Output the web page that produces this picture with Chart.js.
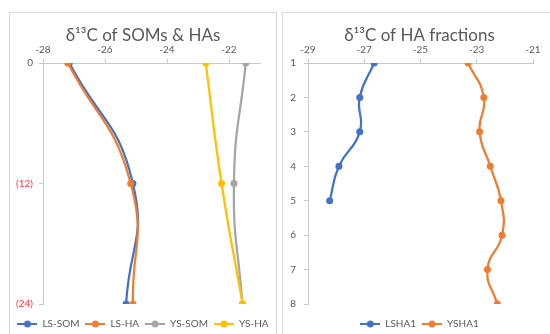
<!DOCTYPE html>
<html>
<head>
<meta charset="utf-8">
<script src="https://cdn.jsdelivr.net/npm/chart.js@4.4.1/dist/chart.umd.min.js"></script>
<style>
    body { margin: 0; width: 550px; height: 334px; overflow: hidden; position: relative; background: #fff; }
    .panel { position: absolute; top: 12px; height: 340px; border: 1px solid #d9d9d9; box-sizing: border-box; background: #fff; }
    #panelA { left: 9px; width: 268px; }
    #panelB { left: 282px; width: 275px; }
    .panel div { position: relative; width: 100%; height: 326px; }
</style>
</head>
<body>
<div class="panel" id="panelA"><div><canvas id="somChart"></canvas></div></div>
<div class="panel" id="panelB"><div><canvas id="fracChart"></canvas></div></div>
<script>
// chart 1: δ13C of SOMs & HAs (depth on y)
const depths = [0, 12, 24];
const depthLabels = ["0", "(12)", "(24)"];
const depthLabelColors = ["#595959", "#ff3b3b", "#ff3b3b"];
const somTicks = [-28, -26, -24, -22];
const lsSom = [-27.15, -25.1, -25.32];
const lsHa = [-27.2, -25.17, -25.1];
const ysSom = [-21.46, -21.84, -21.57];
const ysHa = [-22.75, -22.24, -21.56];

// chart 2: δ13C of HA fractions
const fractions = [1, 2, 3, 4, 5, 6, 7, 8];
const fracTicks = [-29, -27, -25, -23, -21];
const lsha1 = [-26.65, -27.16, -27.16, -27.9, -28.23];
const ysha1 = [-23.31, -22.75, -22.9, -22.52, -22.14, -22.1, -22.62, -22.27];

const BLUE = "#4472c4", ORANGE = "#ed7d31", GRAY = "#a5a5a5", YELLOW = "#ffc000";
const textColor = "#595959";
const axisColor = "#c9c9c9";
const fontFamily = "Lato, 'Open Sans', sans-serif";

// legend marker: short line with a dot, like Excel
function legendMarker(color) {
    let c = document.createElement("canvas");
    c.width = 20;
    c.height = 8;
    let g = c.getContext("2d");
    g.strokeStyle = color;
    g.lineWidth = 2;
    g.beginPath();
    g.moveTo(0, 4);
    g.lineTo(20, 4);
    g.stroke();
    g.fillStyle = color;
    g.beginPath();
    g.arc(10, 4, 3.5, 0, Math.PI * 2);
    g.fill();
    return c;
}

function series(label, xs, ys, color, n, i) {
    return {
        label: label,
        data: xs.map((x, k) => ({ x: x, y: ys[k] })),
        showLine: true,
        borderColor: color,
        backgroundColor: color,
        pointBackgroundColor: color,
        pointBorderWidth: 0,
        pointRadius: 3.5,
        pointStyle: "circle",
        borderWidth: 2.25,
        tension: 0.5,
        order: n - i // later series on top, as in Excel
    };
}

// invisible axis, only used to reserve space next to the plot
function spacer(position, size) {
    return {
        type: "linear",
        position: position,
        display: true,
        ticks: { display: false },
        grid: { display: false },
        border: { display: false },
        afterFit: s => {
            if (position === "bottom") s.height = size; else s.width = size;
        }
    };
}

function makeChart(id, title, datasets, xOpts, yOpts) {
    let ctx = document.getElementById(id).getContext("2d");
    return new Chart(ctx, {
        type: "scatter",
        data: { datasets: datasets },
        options: {
            responsive: true,
            maintainAspectRatio: false,
            animation: false,
            layout: { padding: 0 },
            scales: {
                x: {
                    type: "linear",
                    position: "top",
                    min: xOpts.min,
                    max: xOpts.max,
                    afterBuildTicks: s => { s.ticks = xOpts.ticks.map(v => ({ value: v })); },
                    afterFit: s => { s.height = 17.6; },
                    ticks: { color: textColor, font: { family: fontFamily, size: 10 }, padding: 3 },
                    grid: { drawOnChartArea: false, drawTicks: true, tickLength: 4, color: axisColor },
                    border: { color: axisColor }
                },
                y: {
                    type: "linear",
                    reverse: true,
                    min: yOpts.min,
                    max: yOpts.max,
                    afterBuildTicks: s => { s.ticks = yOpts.ticks.map(v => ({ value: v })); },
                    afterFit: s => { s.width = yOpts.width; },
                    ticks: {
                        color: c => yOpts.colors ? yOpts.colors[c.index] : textColor,
                        font: { family: fontFamily, size: 10 },
                        padding: yOpts.pad,
                        callback: (v, i) => yOpts.labels ? yOpts.labels[i] : v
                    },
                    grid: { drawOnChartArea: false, drawTicks: true, tickLength: 4, color: axisColor },
                    border: { color: axisColor }
                },
                padRight: spacer("right", xOpts.padRight),
                padBottom: spacer("bottom", 9)
            },
            plugins: {
                title: {
                    display: true,
                    text: title,
                    color: textColor,
                    font: { family: fontFamily, size: 17, weight: "normal", lineHeight: 1.2 },
                    padding: { top: 12, bottom: 0 }
                },
                legend: {
                    display: true,
                    position: "bottom",
                    labels: {
                        color: textColor,
                        font: { family: fontFamily, size: 10 },
                        usePointStyle: true,
                        pointStyleWidth: 20,
                        padding: 6,
                        generateLabels: chart => Chart.defaults.plugins.legend.labels.generateLabels(chart).map(item => {
                            item.pointStyle = legendMarker(chart.data.datasets[item.datasetIndex].borderColor);
                            return item;
                        }),
                        sort: (a, b) => a.datasetIndex - b.datasetIndex
                    }
                },
                tooltip: { enabled: false }
            }
        }
    });
}

makeChart("somChart", "δ¹³C of SOMs & HAs", [
    series("LS-SOM", lsSom, depths, BLUE, 4, 0),
    series("LS-HA", lsHa, depths, ORANGE, 4, 1),
    series("YS-SOM", ysSom, depths, GRAY, 4, 2),
    series("YS-HA", ysHa, depths, YELLOW, 4, 3)
], { min: -28, max: -21, ticks: somTicks, padRight: 16 },
   { min: 0, max: 24, ticks: depths, labels: depthLabels, colors: depthLabelColors, width: 33, pad: 6 });

makeChart("fracChart", "δ¹³C of HA fractions", [
    series("LSHA1", lsha1, fractions.slice(0, lsha1.length), BLUE, 2, 0),
    series("YSHA1", ysha1, fractions, ORANGE, 2, 1)
], { min: -29, max: -21, ticks: fracTicks, padRight: 23 },
   { min: 1, max: 8, ticks: fractions, width: 25, pad: 8 });
</script>
</body>
</html>
